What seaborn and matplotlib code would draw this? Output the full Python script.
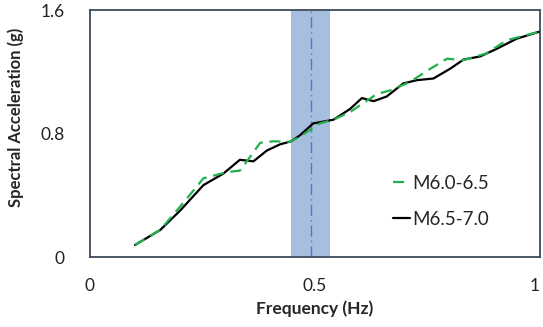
import numpy as np
import pandas as pd
import seaborn as sns
import matplotlib.pyplot as plt

freq_a = [0.10, 0.156, 0.207, 0.252, 0.304, 0.333, 0.356, 0.378, 0.407, 0.444, 0.467,
          0.482, 0.511, 0.541, 0.578, 0.637, 0.667, 0.711, 0.756, 0.793, 0.83, 0.881,
          0.926, 0.998]
sa_a = [0.078, 0.175, 0.35, 0.51, 0.55, 0.56, 0.65, 0.74, 0.75, 0.747, 0.78,
        0.81, 0.866, 0.89, 0.94, 1.056, 1.08, 1.135, 1.22, 1.285, 1.276, 1.32,
        1.405, 1.46]

freq_b = [0.10, 0.156, 0.20, 0.252, 0.296, 0.333, 0.363, 0.393, 0.422, 0.447, 0.467,
          0.496, 0.541, 0.578, 0.604, 0.63, 0.659, 0.696, 0.726, 0.763, 0.80, 0.83,
          0.867, 0.904, 0.948, 0.998]
sa_b = [0.078, 0.175, 0.30, 0.466, 0.54, 0.63, 0.62, 0.69, 0.73, 0.75, 0.79,
        0.866, 0.89, 0.96, 1.03, 1.01, 1.04, 1.125, 1.146, 1.157, 1.22, 1.28,
        1.30, 1.35, 1.415, 1.46]

band = (0.447, 0.533)
band_center = 0.49

x_ticks = [0, 0.5, 1]
x_tick_labels = ["0", "0.5", "1"]
y_ticks = [0, 0.8, 1.6]
y_tick_labels = ["0", "0.8", "1.6"]

sns.set_style("white")
plt.rcParams["font.family"] = ["Lato", "DejaVu Sans"]

fig = plt.figure(figsize=(5.43, 3.27), dpi=100)
ax = fig.add_axes([0.1657, 0.214, 0.829, 0.755])

ax.axvspan(*band, color="#a7bfdf", lw=0, zorder=0)
ax.axvline(band_center, color="#4a7cc4", lw=1, ls=(0, (8, 3, 1, 3)), zorder=1)

df_a = pd.DataFrame({"f": freq_a, "sa": sa_a})
df_b = pd.DataFrame({"f": freq_b, "sa": sa_b})
sns.lineplot(data=df_a, x="f", y="sa", ax=ax, color="#21b04b", lw=1.6,
             ls=(0, (5, 3)), label="M6.0-6.5", zorder=3)
sns.lineplot(data=df_b, x="f", y="sa", ax=ax, color="black", lw=1.6,
             label="M6.5-7.0", zorder=2)

ax.set_xlim(0, 1)
ax.set_ylim(0, 1.6)
ax.set_xticks(x_ticks, x_tick_labels)
ax.set_yticks(y_ticks, y_tick_labels)
ax.tick_params(length=0, labelsize=12.5, colors="#222222")
ax.tick_params(axis="x", pad=15)
ax.tick_params(axis="y", pad=18)
ax.set_xlabel("Frequency (Hz)", fontsize=12.5, fontweight="bold", labelpad=5)
ax.set_ylabel("Spectral Acceleration (g)", fontsize=12, fontweight="bold")
ax.yaxis.set_label_coords(-0.147, 0.567)
for s in ax.spines.values():
    s.set_color("#3d4b5c")
    s.set_linewidth(1.3)

leg = ax.legend(loc="lower right", bbox_to_anchor=(0.925, 0.05), frameon=False,
                fontsize=13.5, handlelength=0.9, handletextpad=0.15, labelspacing=1.0)
ax.xaxis.get_majorticklabels()[-1].set_horizontalalignment("right")

fig.savefig("out.png", dpi=100)
